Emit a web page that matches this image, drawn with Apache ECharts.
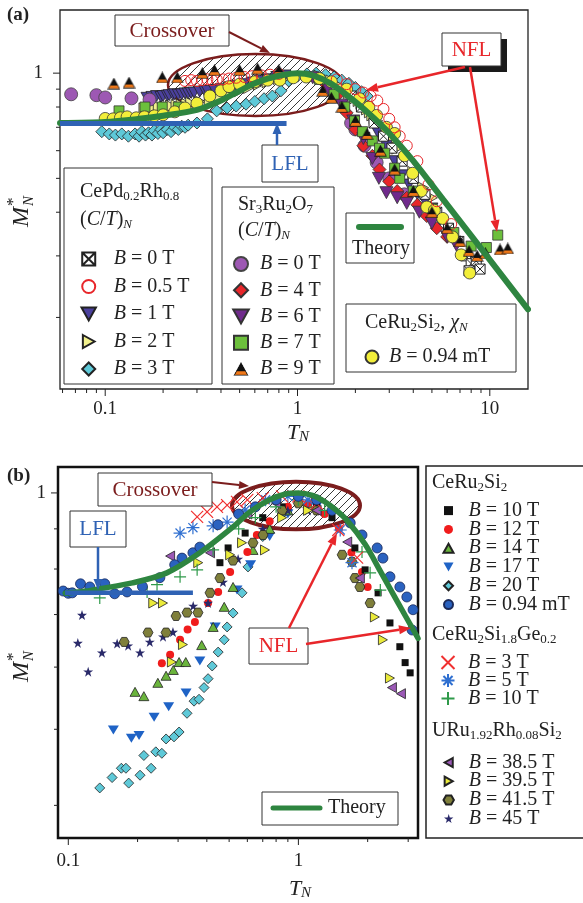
<!DOCTYPE html>
<html><head><meta charset="utf-8">
<script src="https://cdn.jsdelivr.net/npm/echarts@6/dist/echarts.min.js"></script>
<style>html,body{margin:0;padding:0;background:#fff}#c{width:583px;height:903px}</style>
</head><body><div id="c"></div><script>
const F = "'Liberation Serif','Times New Roman',serif";

// ================= Panel (a) data: [T_N, M*_N] =================
const a_CePd_B0 = [[1.9,0.86],[2.15,0.8],[2.5,0.72],[2.8,0.66],[3.1,0.61],[3.5,0.56],[4.0,0.5],[4.6,0.45],[5.3,0.4],[6.1,0.36],[6.9,0.33],[7.5,0.3],[8.0,0.285],[8.5,0.29],[8.9,0.275],[7.8,0.272]];
const a_CePd_B05 = [[0.26,0.95],[0.28,0.955],[0.3,0.95],[0.32,0.955],[0.34,0.96],[0.36,0.955],[0.38,0.96],[0.41,0.96],[0.44,0.965],[0.48,0.97],[0.53,0.975],[0.58,0.98],[0.65,0.985],[0.72,0.99],[0.8,0.995],[1.6,0.96],[1.8,0.93],[2.0,0.9],[2.2,0.88],[2.4,0.86],[2.6,0.835],[2.8,0.79],[3.0,0.74],[3.2,0.7],[3.4,0.66],[3.7,0.62],[4.2,0.56],[4.8,0.48],[5.3,0.43],[6.3,0.37]];
const a_CePd_B1 = [[0.165,0.85],[0.175,0.855],[0.185,0.86],[0.195,0.855],[0.2,0.86],[0.21,0.862],[0.215,0.865],[0.225,0.868],[0.23,0.87],[0.24,0.868],[0.25,0.87],[0.26,0.875],[0.27,0.875],[0.28,0.878],[0.29,0.88],[0.31,0.885],[0.33,0.888],[0.34,0.89],[0.37,0.895],[0.4,0.9],[0.44,0.91],[0.48,0.92],[0.53,0.93],[0.58,0.94],[0.64,0.95],[0.7,0.96],[0.78,0.975],[0.86,0.985],[2.6,0.68],[2.9,0.62],[3.2,0.56],[3.5,0.51],[3.8,0.48],[4.2,0.45],[4.6,0.43],[5.0,0.41],[5.5,0.38]];
const a_CePd_B2 = [[0.16,0.79],[0.175,0.795],[0.19,0.8],[0.205,0.8],[0.22,0.805],[0.235,0.808],[0.25,0.81],[0.265,0.815],[0.28,0.82],[0.31,0.83],[0.35,0.84],[0.39,0.855],[0.44,0.87],[0.5,0.89],[0.56,0.91],[0.63,0.93],[0.7,0.945],[0.8,0.965],[0.9,0.98],[1.3,0.98],[1.5,0.95],[1.7,0.91],[1.85,0.88],[2.0,0.85],[2.08,0.835],[2.15,0.82],[2.22,0.805],[2.3,0.79],[2.38,0.775],[2.45,0.76],[2.52,0.745],[2.6,0.73],[2.68,0.715],[2.75,0.7],[2.9,0.67],[3.1,0.64],[3.3,0.61],[3.6,0.57],[4.0,0.52],[4.5,0.47],[5.0,0.44]];
const a_CePd_B3 = [[0.096,0.68],[0.105,0.67],[0.113,0.665],[0.122,0.67],[0.132,0.66],[0.143,0.67],[0.15,0.66],[0.155,0.68],[0.162,0.665],[0.168,0.675],[0.175,0.665],[0.18,0.685],[0.188,0.672],[0.195,0.69],[0.2,0.675],[0.21,0.69],[0.22,0.68],[0.23,0.7],[0.24,0.69],[0.25,0.705],[0.26,0.7],[0.27,0.71],[0.3,0.72],[0.34,0.74],[0.38,0.78],[0.43,0.795],[0.48,0.805],[0.54,0.815],[0.6,0.83],[0.67,0.845],[0.74,0.86],[0.82,0.89],[0.9,0.95],[1.0,0.98],[1.12,0.995],[1.25,1.0],[1.4,0.99],[1.55,0.975],[1.7,0.955],[1.85,0.935],[2.0,0.91],[2.15,0.885],[2.3,0.86]];
const a_Sr_B0 = [[0.0665,0.87],[0.09,0.865],[0.1,0.852],[0.137,0.847],[0.17,0.84],[1.9,0.72],[2.0,0.69],[2.23,0.62],[2.58,0.555],[3.0,0.5],[3.6,0.45]];
const a_Sr_B4 = [[1.4,0.93],[1.6,0.86],[1.8,0.77],[2.0,0.69],[2.2,0.62],[2.45,0.58],[2.67,0.53],[3.0,0.49],[3.3,0.46],[3.7,0.44],[4.2,0.42],[4.7,0.39],[5.3,0.36],[6.0,0.34]];
const a_Sr_B6 = [[1.2,0.97],[1.45,0.9],[1.7,0.81],[1.95,0.73],[2.2,0.65],[2.45,0.57],[2.65,0.5],[2.9,0.455],[3.3,0.44],[3.7,0.424],[4.3,0.4],[5.0,0.372],[6.0,0.34],[6.7,0.322]];
const a_Sr_B7 = [[0.118,0.78],[0.161,0.8],[0.198,0.8],[0.24,0.8],[1.3,0.96],[1.55,0.87],[1.76,0.8],[1.98,0.73],[2.18,0.68],[2.45,0.64],[2.67,0.61],[2.84,0.59],[3.2,0.535],[3.4,0.5],[4.0,0.46],[5.0,0.41],[6.5,0.35],[8.0,0.32],[9.6,0.317],[11.0,0.344]];
const a_Sr_B9 = [[0.111,0.934],[0.133,0.94],[0.198,0.972],[0.237,0.972],[0.32,1.0],[0.37,1.02],[0.5,1.02],[0.62,1.03],[0.8,1.02],[1.35,0.89],[1.5,0.85],[1.7,0.8],[2.0,0.73],[2.3,0.67],[2.7,0.6],[3.2,0.53],[4.0,0.46],[5.0,0.4],[6.0,0.36],[7.0,0.33],[7.8,0.31],[8.6,0.3],[9.5,0.305],[11.3,0.313],[12.4,0.315]];
const a_CeRu2Si2_chi = [[0.1,0.742],[0.11,0.74],[0.12,0.745],[0.13,0.75],[0.145,0.745],[0.16,0.75],[0.18,0.755],[0.2,0.76],[0.23,0.775],[0.26,0.795],[0.3,0.82],[0.35,0.86],[0.4,0.89],[0.44,0.915],[0.5,0.93],[0.6,0.945],[0.7,0.955],[0.81,0.955],[0.95,0.97],[1.11,0.975],[1.3,0.965],[1.5,0.945],[1.8,0.9],[2.1,0.845],[2.35,0.8],[2.58,0.757],[2.9,0.7],[3.2,0.672],[3.6,0.58],[3.97,0.517],[4.4,0.46],[4.7,0.414],[5.15,0.405],[5.69,0.384],[6.4,0.34],[7.1,0.302],[7.86,0.268]];
const theoryA_T = [0.0582,0.1,0.15,0.2,0.3,0.4,0.5,0.6,0.7,0.85,1.0,1.2,1.5,2.0,2.5,3.0,4.0,5.7,8.0,11.0,15.8];
const theoryA_M = [0.72,0.725,0.74,0.755,0.785,0.835,0.89,0.935,0.965,0.99,1.0,0.985,0.932,0.828,0.743,0.673,0.561,0.436,0.343,0.273,0.211];
const lflA_T = [0.0582,0.877];
const lflA_M = [0.718,0.718];

// ================= Panel (b) data =================
const b_Ce_B10 = [[0.456,0.815],[0.495,0.851],[0.587,0.889],[0.7,0.93],[0.85,0.96],[1.0,0.97],[1.2,0.96],[1.4,0.93],[1.76,0.851],[1.95,0.798],[2.22,0.746],[2.5,0.683],[2.76,0.637],[2.91,0.608],[3.06,0.59]];
const b_Ce_B12 = [[0.255,0.607],[0.277,0.622],[0.306,0.65],[0.33,0.67],[0.355,0.685],[0.405,0.724],[0.448,0.748],[0.505,0.793],[0.6,0.841],[0.66,0.884],[0.75,0.92],[0.9,0.96],[1.1,0.97],[1.3,0.94],[1.5,0.9],[1.7,0.84],[1.89,0.793],[2.0,0.759]];
const b_Ce_B14 = [[0.195,0.558],[0.213,0.551],[0.245,0.573],[0.266,0.585],[0.286,0.595],[0.303,0.609],[0.324,0.609],[0.38,0.64],[0.426,0.675],[0.476,0.716],[0.52,0.759],[0.635,0.846],[0.75,0.9],[0.9,0.95],[1.1,0.97]];
const b_Ce_B17 = [[0.157,0.499],[0.188,0.487],[0.203,0.491],[0.236,0.518],[0.273,0.534],[0.325,0.556],[0.373,0.611],[0.435,0.675],[0.541,0.752],[0.62,0.81],[0.75,0.88],[0.9,0.94],[1.2,0.96]];
const b_Ce_B20 = [[0.137,0.421],[0.155,0.434],[0.183,0.427],[0.17,0.446],[0.178,0.446],[0.205,0.437],[0.213,0.463],[0.229,0.446],[0.24,0.468],[0.255,0.466],[0.266,0.486],[0.288,0.489],[0.303,0.496],[0.328,0.524],[0.352,0.543],[0.37,0.546],[0.389,0.565],[0.405,0.58],[0.422,0.602],[0.448,0.627],[0.476,0.65],[0.49,0.675],[0.52,0.703],[0.569,0.746],[0.604,0.805],[0.7,0.88],[0.85,0.94]];
const b_Ce_B094 = [[0.095,0.75],[0.1,0.745],[0.104,0.746],[0.113,0.766],[0.124,0.759],[0.144,0.766],[0.159,0.744],[0.18,0.748],[0.21,0.76],[0.25,0.78],[0.29,0.81],[0.312,0.826],[0.348,0.839],[0.373,0.853],[0.447,0.911],[0.55,0.94],[0.65,0.96],[0.8,0.98],[1.0,0.99],[1.2,0.98],[1.4,0.95],[1.68,0.916],[1.89,0.884],[2.2,0.851],[2.33,0.826],[2.5,0.782],[2.76,0.759],[2.96,0.737],[3.15,0.71],[3.12,0.669]];
const b_Ge_B3 = [[0.363,0.932],[0.401,0.946],[0.443,0.96],[0.49,0.965],[0.541,0.974],[0.6,0.98],[0.7,0.985],[0.85,0.99],[1.0,0.99],[1.2,0.97],[1.49,0.897],[1.8,0.827]];
const b_Ge_B5 = [[0.306,0.889],[0.348,0.903],[0.426,0.908],[0.49,0.918],[0.587,0.951],[0.72,0.98],[0.9,0.99],[1.1,0.98],[1.52,0.897],[1.71,0.815]];
const b_Ge_B10 = [[0.137,0.735],[0.22,0.748],[0.243,0.764],[0.306,0.782],[0.363,0.798],[0.426,0.846],[0.55,0.9],[0.65,0.93],[0.8,0.96],[1.0,0.98],[1.3,0.95],[1.89,0.841],[2.05,0.791],[2.27,0.752]];
const b_U_B385 = [[0.277,0.831],[0.413,0.839],[0.6,0.94],[0.8,0.97],[1.2,0.95],[1.63,0.866],[1.85,0.779],[2.55,0.565],[2.79,0.555]];
const b_U_B395 = [[0.234,0.724],[0.258,0.724],[0.282,0.609],[0.315,0.641],[0.367,0.815],[0.505,0.834],[0.569,0.864],[0.716,0.846],[0.85,0.93],[1.1,0.95],[2.15,0.695],[2.33,0.65],[2.5,0.581]];
const b_U_B415 = [[0.175,0.646],[0.222,0.664],[0.266,0.664],[0.294,0.697],[0.328,0.704],[0.366,0.704],[0.413,0.746],[0.456,0.779],[0.52,0.82],[0.635,0.864],[0.702,0.884],[0.85,0.95],[1.0,0.97],[1.2,0.95],[1.55,0.834],[1.71,0.817],[1.76,0.779],[1.85,0.759],[2.05,0.724]];
const b_U_B45 = [[0.1147,0.699],[0.11,0.644],[0.122,0.592],[0.14,0.626],[0.163,0.643],[0.182,0.639],[0.205,0.626],[0.226,0.646],[0.258,0.656],[0.285,0.665],[0.349,0.718],[0.405,0.724],[0.47,0.77],[0.547,0.824],[0.7,0.9],[0.9,0.95],[1.1,0.95]];
const theoryB_T = [0.097,0.12,0.137,0.19,0.268,0.373,0.52,0.616,0.75,0.88,1.0,1.15,1.3,1.45,1.63,1.95,2.27,2.7,3.31];
const theoryB_M = [0.745,0.75,0.755,0.768,0.791,0.839,0.905,0.946,0.98,0.997,1.0,0.993,0.975,0.952,0.922,0.86,0.795,0.726,0.653];
const lflB_T = [0.0968,0.348];
const lflB_M = [0.746,0.746];

// ================= ticks =================
const aXMajor = [0.1,1,10];
const aXMinor = [0.06,0.07,0.08,0.09,0.2,0.3,0.4,0.5,0.6,0.7,0.8,0.9,2,3,4,5,6,7,8,9];
const aYMajor = [1];
const aYMinor = [0.2,0.3,0.4,0.5,0.6,0.7,0.8,0.9];
const bXMajor = [0.1,1];
const bXMinor = [0.2,0.3,0.4,0.5,0.6,0.7,0.8,0.9,2,3];
const bYMajor = [1];
const bYMinor = [0.4,0.5,0.6,0.7,0.8,0.9];

const AX = {min:0.0582, max:15.8}, AY = {min:0.1248, max:1.516};
const BX = {min:0.0902, max:3.31}, BY = {min:0.3635, max:1.079};

// ================= symbols =================
const SQX = 'path://M0,0L10,0L10,10L0,10Z M0,0L10,10 M10,0L0,10';
const TRI_DN = 'path://M0,0L10,0L5,9Z';
const TRI_UP = 'path://M5,0L10,9L0,9Z';
const TRI_R = 'path://M0,0L9,5L0,10Z';
const TRI_L = 'path://M9,0L0,5L9,10Z';
const DIAM = 'path://M5,0L10,5L5,10L0,5Z';
const SQ = 'path://M0,0L10,0L10,10L0,10Z';
const XX = 'path://M0,0L10,10M10,0L0,10';
const AST = 'path://M5,0L5,10M0,5L10,5M1.5,1.5L8.5,8.5M8.5,1.5L1.5,8.5';
const PLUS = 'path://M5,0L5,10M0,5L10,5';
const HEX = 'path://M2.5,0L7.5,0L10,4.33L7.5,8.66L2.5,8.66L0,4.33Z';
const STAR = 'path://M5,0L6.18,3.6L9.95,3.6L6.9,5.85L8.05,9.5L5,7.25L1.95,9.5L3.1,5.85L0.05,3.6L3.82,3.6Z';
function triOrangeImg(){
  const c=document.createElement('canvas'); c.width=26; c.height=24; const g=c.getContext('2d');
  g.beginPath(); g.moveTo(13,1.5); g.lineTo(24.5,22.5); g.lineTo(1.5,22.5); g.closePath();
  g.fillStyle='#111'; g.fill(); g.save(); g.clip(); g.fillStyle='#f07818'; g.fillRect(0,16,26,8); g.restore();
  g.strokeStyle='#111'; g.lineWidth=1.4; g.stroke();
  return 'image://'+c.toDataURL();
}
const TRI_BO = triOrangeImg();
function hatchCanvas(sp){
  const c=document.createElement('canvas'); c.width=sp; c.height=sp; const g=c.getContext('2d');
  g.strokeStyle='#222'; g.lineWidth=0.9; g.beginPath();
  g.moveTo(-1,sp+1); g.lineTo(sp+1,-1); g.moveTo(-1,1); g.lineTo(1,-1); g.moveTo(sp-1,sp+1); g.lineTo(sp+1,sp-1);
  g.stroke(); return c;
}

const zip = (a,b)=>a.map((v,i)=>[v,b[i]]);

function sc(name, data, symbol, size, color, border, bw, gi){
  return {type:'scatter', name, data, symbol, symbolSize:size, xAxisIndex:gi, yAxisIndex:gi, silent:true,
    itemStyle:{color, borderColor:border, borderWidth:bw, opacity:1}, emphasis:{disabled:true}, z:2, animation:false};
}
function ticks(gi, axis, vals, len, other){
  return {type:'custom', xAxisIndex:gi, yAxisIndex:gi, silent:true, z:3, animation:false,
    data: vals.map(v => axis==='x' ? [v, other] : [other, v]),
    renderItem: function(params, api){
      const p = api.coord([api.value(0), api.value(1)]);
      const shape = axis==='x' ? {x1:p[0],y1:p[1],x2:p[0],y2:p[1]+len} : {x1:p[0],y1:p[1],x2:p[0]-len,y2:p[1]};
      return {type:'line', shape, style:{stroke:'#222', lineWidth:1}};
    }};
}

// ================= legend labels =================
const LBL = {
  'CePd B=0 T':'{i|B} = 0 T','CePd B=0.5 T':'{i|B} = 0.5 T','CePd B=1 T':'{i|B} = 1 T','CePd B=2 T':'{i|B} = 2 T','CePd B=3 T':'{i|B} = 3 T',
  'Sr B=0 T':'{i|B} = 0 T','Sr B=4 T':'{i|B} = 4 T','Sr B=6 T':'{i|B} = 6 T','Sr B=7 T':'{i|B} = 7 T','Sr B=9 T':'{i|B} = 9 T',
  'CeRu2Si2 chi B=0.94 mT':'{i|B} = 0.94 mT',
  'Ce B=10 T':'{i|B} = 10 T','Ce B=12 T':'{i|B} = 12 T','Ce B=14 T':'{i|B} = 14 T','Ce B=17 T':'{i|B} = 17 T','Ce B=20 T':'{i|B} = 20 T','Ce B=0.94 mT':'{i|B} = 0.94 mT',
  'Ge B=3 T':'{i|B} = 3 T','Ge B=5 T':'{i|B} = 5 T','Ge B=10 T':'{i|B} = 10 T',
  'U B=38.5 T':'{i|B} = 38.5 T','U B=39.5 T':'{i|B} = 39.5 T','U B=41.5 T':'{i|B} = 41.5 T','U B=45 T':'{i|B} = 45 T'
};
function legend(names, left, top, iw, ih, gap, lh){
  return {data:names, left, top, orient:'vertical', itemWidth:iw, itemHeight:ih, itemGap:gap, padding:0, selectedMode:false, z:20,
    formatter: n => LBL[n],
    textStyle:{fontFamily:F, fontSize:20, color:'#222', lineHeight:lh,
      rich:{i:{fontFamily:F, fontSize:20, fontStyle:'italic', color:'#222', lineHeight:lh}}}};
}

// ================= graphic helpers =================
const RICH = {
  s:{fontFamily:F, fontSize:13, verticalAlign:'bottom', lineHeight:11, fill:'#222'},
  i:{fontFamily:F, fontSize:20, fontStyle:'italic', lineHeight:22},
  is:{fontFamily:F, fontSize:13, fontStyle:'italic', verticalAlign:'bottom', lineHeight:11},
  t:{fontFamily:F, fontSize:22, fontStyle:'italic', lineHeight:24},
  ts:{fontFamily:F, fontSize:15, fontStyle:'italic', verticalAlign:'bottom', lineHeight:12}
};
function txt(x,y,text,o){
  return {type:'text', x, y, z:12, style:Object.assign({text, fill:'#222', fontFamily:F, fontSize:20, lineHeight:22,
    align:'left', verticalAlign:'middle', textAlign:'left', textVerticalAlign:'middle', rich:RICH}, o||{})};
}
function box(x,y,w,h,o){
  return {type:'rect', z:10, shape:{x,y,width:w,height:h}, style:Object.assign({fill:'#fff', stroke:'#333', lineWidth:1}, o||{})};
}
function arrow(x1,y1,x2,y2,color,w,hl,hw){
  const a=Math.atan2(y2-y1,x2-x1), bx=x2-hl*Math.cos(a), by=y2-hl*Math.sin(a);
  const px=-Math.sin(a)*hw/2, py=Math.cos(a)*hw/2;
  return [{type:'line', z:13, shape:{x1,y1,x2:bx,y2:by}, style:{stroke:color, lineWidth:w}},
          {type:'polygon', z:13, shape:{points:[[x2,y2],[bx+px,by+py],[bx-px,by-py]]}, style:{fill:color}}];
}
function mAxisTitle(x,y){
  return {type:'group', x, y, rotation:Math.PI/2, z:12, children:[
    {type:'text', x:0, y:0, style:{text:'M', fill:'#222', fontFamily:F, fontSize:24, fontStyle:'italic', align:'right', verticalAlign:'middle'}},
    {type:'text', x:1, y:-8, style:{text:'*', fill:'#222', fontFamily:F, fontSize:17, align:'left', verticalAlign:'middle'}},
    {type:'text', x:1, y:7, style:{text:'N', fill:'#222', fontFamily:F, fontSize:15, fontStyle:'italic', align:'left', verticalAlign:'middle'}}
  ]};
}
const RED='#e8262a', DARKRED='#7b1d1d', BLUE='#2f62b4', GREEN='#2e8540';

const hatch = {image:hatchCanvas(8), repeat:'repeat'};

const graphics = [].concat(
  [
    txt(7,15,'(a)',{fontWeight:'bold', fontSize:19}),
    txt(7,476,'(b)',{fontWeight:'bold', fontSize:19}),
    // panel a annotations
    {type:'ellipse', z:1, shape:{cx:255.5, cy:85, rx:87.5, ry:31}, style:{fill:hatch, stroke:DARKRED, lineWidth:2.5}},
    box(115,15,114,31), txt(172,31,'Crossover',{fill:DARKRED, fontSize:21, align:'center', textAlign:'center'}),
    {type:'rect', z:10, shape:{x:448,y:39,width:59,height:33}, style:{fill:'#1a1a1a'}},
    box(442,33,59,33), txt(471.5,50,'NFL',{fill:RED, fontSize:21, align:'center', textAlign:'center'}),
    box(262,145,56,37), txt(290,164,'LFL',{fill:BLUE, fontSize:21, align:'center', textAlign:'center'}),
    box(64,168,148,216),
    txt(80,192,'CePd{s|0.2}Rh{s|0.8}'),
    txt(80,220,'({i|C}/{i|T}){is|N}'),
    box(222,187,112,197),
    txt(238,205,'Sr{s|3}Ru{s|2}O{s|7}'),
    txt(238,231,'({i|C}/{i|T}){is|N}'),
    box(346,213,68,50),
    {type:'line', z:12, shape:{x1:359,y1:227,x2:401,y2:227}, style:{stroke:GREEN, lineWidth:6, lineCap:'round'}},
    txt(381,249,'Theory',{align:'center', textAlign:'center'}),
    box(346,304,170,68),
    txt(365,323,'CeRu{s|2}Si{s|2}, {i|χ}{is|N}'),
    txt(298,433,'{t|T}{ts|N}',{align:'center', textAlign:'center', lineHeight:24}),
    mAxisTitle(22,207),
    // panel b annotations
    {type:'ellipse', z:1, shape:{cx:296, cy:505.5, rx:64, ry:23.8}, style:{fill:hatch, stroke:DARKRED, lineWidth:4}},
    box(98,473,114,33), txt(155,490,'Crossover',{fill:DARKRED, fontSize:21, align:'center', textAlign:'center'}),
    box(249,628,59,36), txt(278.5,646,'NFL',{fill:RED, fontSize:21, align:'center', textAlign:'center'}),
    box(70,511,56,36), txt(98,529,'LFL',{fill:BLUE, fontSize:21, align:'center', textAlign:'center'}),
    box(262,792,136,33),
    {type:'line', z:12, shape:{x1:273,y1:808,x2:320,y2:808}, style:{stroke:GREEN, lineWidth:5, lineCap:'round'}},
    txt(328,808,'Theory'),
    box(426,466,185,372,{stroke:'#222', lineWidth:1.5}),
    txt(432,483,'CeRu{s|2}Si{s|2}'),
    txt(432,635,'CeRu{s|2}Si{s|1.8}Ge{s|0.2}'),
    txt(432,731,'URu{s|1.92}Rh{s|0.08}Si{s|2}'),
    txt(300,889,'{t|T}{ts|N}',{align:'center', textAlign:'center', lineHeight:24}),
    mAxisTitle(22,662)
  ],
  arrow(229,32,270,53,DARKRED,2,10,8),
  arrow(465,67,366,90,RED,2.5,12,9),
  arrow(470,67,497,232,RED,2.5,12,9),
  arrow(277,145,277,123,BLUE,2.5,11,9),
  arrow(212,482,249,486,DARKRED,2,10,8),
  arrow(289,628,337,533,RED,2.5,12,9),
  arrow(306,644,411,628,RED,2.5,12,9),
  arrow(98,547,98,590,BLUE,2.5,11,9)
);

const axLabel = (margin)=>({fontFamily:F, fontSize:19, color:'#222', margin, showMinLabel:false, showMaxLabel:false,
  formatter: v => String(+(+v).toPrecision(6))});
function xAx(gi, r, margin){ return {type:'log', gridIndex:gi, min:r.min, max:r.max, axisLine:{show:false}, axisTick:{show:false}, splitLine:{show:false}, minorTick:{show:false}, axisLabel:axLabel(margin)}; }

const series = [
  // panel (a)
  sc('CePd B=3 T', a_CePd_B3, DIAM, [12,12], '#5ec9d8', '#222', 0.8, 0),
  sc('CePd B=2 T', a_CePd_B2, TRI_R, [11,12], '#f1f08c', '#222', 0.8, 0),
  sc('CePd B=1 T', a_CePd_B1, TRI_DN, [12,11], '#4b409e', '#222', 0.8, 0),
  sc('CePd B=0 T', a_CePd_B0, SQX, [10,10], '#fff', '#222', 1, 0),
  sc('Sr B=0 T', a_Sr_B0, 'circle', 13, '#9d58b3', '#444', 0.8, 0),
  sc('Sr B=4 T', a_Sr_B4, DIAM, [13,13], '#e8262a', '#333', 0.8, 0),
  sc('Sr B=6 T', a_Sr_B6, TRI_DN, [13,12], '#702a8c', '#333', 0.8, 0),
  sc('Sr B=7 T', a_Sr_B7, SQ, [10,10], '#6cbf3c', '#333', 0.8, 0),
  sc('CeRu2Si2 chi B=0.94 mT', a_CeRu2Si2_chi, 'circle', 12, '#f2ee3a', '#333', 0.8, 0),
  sc('CePd B=0.5 T', a_CePd_B05, 'circle', 11, 'rgba(255,255,255,0)', '#e8262a', 1, 0),
  sc('Sr B=9 T', a_Sr_B9, TRI_BO, [13,12], '#111', '#111', 0, 0),
  {type:'line', data:zip(theoryA_T,theoryA_M), xAxisIndex:0, yAxisIndex:0, smooth:0.3, symbol:'none', showSymbol:false, silent:true, z:5, animation:false, lineStyle:{color:GREEN, width:6, cap:'round'}},
  {type:'line', data:zip(lflA_T,lflA_M), xAxisIndex:0, yAxisIndex:0, symbol:'none', showSymbol:false, silent:true, z:6, animation:false, lineStyle:{color:BLUE, width:5}},
  ticks(0,'x',aXMajor,7,AY.min), ticks(0,'x',aXMinor,4,AY.min),
  ticks(0,'y',aYMajor,7,AX.min), ticks(0,'y',aYMinor,4,AX.min),
  // panel (b)
  sc('Ce B=20 T', b_Ce_B20, DIAM, [10,10], '#5ec9d8', '#222', 0.8, 1),
  sc('Ce B=17 T', b_Ce_B17, TRI_DN, [11,9], '#1f63c6', '#1f63c6', 0, 1),
  sc('Ce B=14 T', b_Ce_B14, TRI_UP, [10,9], '#6ab43c', '#222', 0.8, 1),
  sc('Ce B=12 T', b_Ce_B12, 'circle', 8, '#f01c1c', '#f01c1c', 0, 1),
  sc('Ce B=10 T', b_Ce_B10, SQ, [7,7], '#111', '#111', 0, 1),
  sc('U B=45 T', b_U_B45, STAR, [10,10], '#2a2a6a', '#2a2a6a', 0, 1),
  sc('U B=41.5 T', b_U_B415, HEX, [10,9], '#7f7f3a', '#222', 0.8, 1),
  sc('U B=39.5 T', b_U_B395, TRI_R, [9,10], '#eaea3a', '#222', 0.8, 1),
  sc('U B=38.5 T', b_U_B385, TRI_L, [9,10], '#9b59b6', '#222', 0.8, 1),
  sc('Ge B=10 T', b_Ge_B10, PLUS, [12,12], 'rgba(0,0,0,0)', '#2f9a4a', 1.2, 1),
  sc('Ge B=5 T', b_Ge_B5, AST, [13,13], 'rgba(0,0,0,0)', '#2f6fd0', 1.2, 1),
  sc('Ge B=3 T', b_Ge_B3, XX, [12,12], 'rgba(0,0,0,0)', '#f03030', 1.2, 1),
  sc('Ce B=0.94 mT', b_Ce_B094, 'circle', 10, '#2a62c0', '#1a2a5a', 0.8, 1),
  {type:'line', data:zip(theoryB_T,theoryB_M), xAxisIndex:1, yAxisIndex:1, smooth:0.3, symbol:'none', showSymbol:false, silent:true, z:5, animation:false, lineStyle:{color:GREEN, width:5.5, cap:'round'}},
  {type:'line', data:zip(lflB_T,lflB_M), xAxisIndex:1, yAxisIndex:1, symbol:'none', showSymbol:false, silent:true, z:6, animation:false, lineStyle:{color:BLUE, width:4.5}},
  ticks(1,'x',bXMajor,7,BY.min), ticks(1,'x',bXMinor,4,BY.min),
  ticks(1,'y',bYMajor,7,BX.min), ticks(1,'y',bYMinor,4,BX.min)
];

const chart = echarts.init(document.getElementById('c'), null, {renderer:'canvas'});
chart.setOption({
  animation:false,
  backgroundColor:'#fff',
  grid:[
    {left:60, top:10, width:468, height:379, show:true, borderColor:'#222', borderWidth:1.3, backgroundColor:'transparent', containLabel:false, outerBoundsMode:'none'},
    {left:58, top:467, width:360, height:371, show:true, borderColor:'#111', borderWidth:2.5, backgroundColor:'transparent', containLabel:false, outerBoundsMode:'none'}
  ],
  xAxis:[xAx(0,AX,10.5), xAx(1,BX,13.5)],
  yAxis:[xAx(0,AY,17), xAx(1,BY,12)],
  legend:[
    legend(['CePd B=0 T','CePd B=0.5 T','CePd B=1 T','CePd B=2 T','CePd B=3 T'], 80.5, 249, 40, 13, 7.5, 20),
    legend(['Sr B=0 T','Sr B=4 T','Sr B=6 T','Sr B=7 T','Sr B=9 T'], 227, 254, 28, 14, 6.25, 20),
    legend(['CeRu2Si2 chi B=0.94 mT'], 364.5, 347, 24, 13, 0, 20),
    legend(['Ce B=10 T','Ce B=12 T','Ce B=14 T','Ce B=17 T','Ce B=20 T','Ce B=0.94 mT'], 442.5, 500.6, 30, 9, -1.2, 18.8),
    legend(['Ge B=3 T','Ge B=5 T','Ge B=10 T'], 440.5, 652.5, 30, 13, -2, 18),
    legend(['U B=38.5 T','U B=39.5 T','U B=41.5 T','U B=45 T'], 442.5, 752.5, 30, 9, -1.3, 18.7)
  ],
  graphic:{elements:graphics},
  series
});
</script></body></html>
